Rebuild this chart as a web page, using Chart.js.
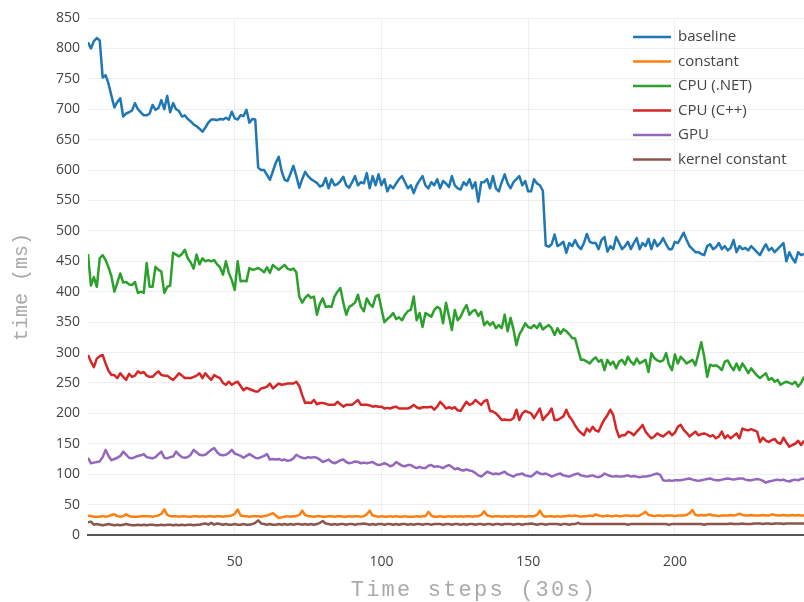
<!DOCTYPE html>
<html>
<head>
<meta charset="utf-8">
<script src="https://cdn.jsdelivr.net/npm/chart.js@4.4.1/dist/chart.umd.min.js"></script>
<style>
  html, body { margin: 0; padding: 0; background: #fff; }
  #wrap { width: 804px; height: 602px; position: relative; }
</style>
</head>
<body>
<div id="wrap"><canvas id="chart" width="804" height="602"></canvas></div>
<script>
// Series names and plot colours
const seriesNames = ['baseline', 'constant', 'CPU (.NET)', 'CPU (C++)', 'GPU', 'kernel constant'];
const seriesColors = ['#1f77b4', '#ff7f0e', '#2ca02c', '#d62728', '#9467bd', '#8c564b'];

// Axis ticks
const xTicks = [50, 100, 150, 200];
const yTicks = [0, 50, 100, 150, 200, 250, 300, 350, 400, 450, 500, 550, 600, 650, 700, 750, 800, 850];

// Measured times (ms), one value per 30 s time step, starting at step 0
const baseline = [
  810, 800, 812, 817, 813, 752, 756, 742, 722, 703,
  712, 718, 688, 693, 695, 698, 710, 700, 695, 690,
  690, 693, 707, 699, 702, 715, 700, 722, 695, 710,
  700, 697, 688, 690, 684, 680, 675, 672, 668, 663,
  670, 678, 683, 683, 682, 684, 683, 686, 683, 696,
  685, 683, 690, 689, 699, 678, 684, 683, 604, 600,
  600, 592, 584, 598, 612, 622, 598, 584, 582, 594,
  607, 590, 571, 585, 597, 590, 585, 582, 579, 573,
  575, 587, 570, 585, 575, 577, 582, 589, 575, 571,
  580, 590, 575, 580, 578, 595, 570, 590, 575, 593,
  575, 585, 565, 575, 570, 578, 585, 590, 580, 570,
  575, 562, 575, 583, 590, 575, 570, 580, 575, 585,
  570, 582, 578, 572, 590, 575, 570, 568, 580, 575,
  585, 570, 580, 548, 580, 580, 585, 570, 590, 570,
  565, 580, 593, 578, 570, 580, 585, 590, 575, 582,
  565, 565, 585, 578, 575, 566, 476, 474, 478, 494,
  475, 478, 482, 464, 480, 475, 485, 475, 470, 480,
  495, 482, 480, 480, 470, 485, 490, 466, 475, 470,
  490, 480, 470, 475, 482, 470, 480, 488, 470, 480,
  475, 487, 470, 485, 475, 480, 488, 478, 470, 470,
  482, 480, 488, 497, 485, 475, 470, 465, 465, 462,
  460, 475, 478, 470, 473, 480, 470, 475, 468, 472,
  485, 465, 475, 470, 472, 468, 475, 470, 465, 460,
  470, 478, 468, 472, 465, 470, 475, 480, 450, 465,
  455, 448, 465, 460, 462
];

const constant = [
  32, 31, 30, 30, 30, 31, 30, 31, 33, 34,
  31, 30, 31, 34, 31, 30, 30, 30, 31, 31,
  31, 31, 30, 31, 32, 35, 42, 33, 31, 31,
  31, 30, 31, 31, 30, 30, 31, 31, 30, 31,
  30, 31, 31, 30, 31, 31, 30, 31, 31, 32,
  35, 42, 32, 31, 31, 30, 31, 31, 31, 30,
  31, 32, 34, 36, 32, 28, 29, 30, 31, 30,
  31, 31, 33, 40, 33, 31, 31, 30, 31, 31,
  30, 30, 31, 31, 30, 31, 31, 30, 30, 31,
  30, 31, 31, 30, 31, 34, 40, 32, 31, 30,
  31, 30, 30, 31, 30, 31, 30, 30, 31, 30,
  30, 30, 31, 30, 31, 31, 38, 32, 30, 30,
  31, 30, 30, 31, 30, 31, 30, 31, 30, 31,
  31, 30, 31, 31, 33, 39, 32, 31, 30, 31,
  31, 30, 31, 30, 31, 31, 30, 31, 31, 30,
  31, 31, 31, 33, 40, 32, 30, 31, 31, 30,
  31, 30, 31, 31, 32, 31, 32, 31, 30, 31,
  31, 32, 31, 34, 32, 31, 31, 32, 31, 31,
  32, 31, 31, 32, 32, 31, 32, 31, 32, 35,
  38, 33, 32, 31, 32, 32, 31, 32, 32, 32,
  31, 32, 32, 32, 33, 36, 41, 33, 32, 33,
  32, 33, 34, 32, 32, 31, 32, 32, 32, 33,
  32, 33, 35, 33, 32, 32, 33, 32, 32, 32,
  33, 32, 32, 34, 33, 32, 32, 33, 32, 32,
  33, 32, 33, 32, 32
];

const cpuDotNet = [
  462, 410, 424, 408, 455, 460, 452, 440, 425, 400,
  415, 430, 415, 416, 412, 411, 416, 398, 400, 398,
  447, 408, 408, 441, 436, 433, 398, 408, 410, 464,
  461, 458, 462, 469, 455, 448, 438, 461, 445, 455,
  450, 452, 450, 452, 445, 440, 428, 450, 431, 419,
  403, 450, 417, 418, 417, 439, 436, 437, 439, 436,
  432, 440, 431, 444, 440, 436, 440, 444, 438, 436,
  438, 432, 392, 382, 390, 395, 390, 392, 362, 380,
  389, 375, 376, 375, 392, 400, 406, 382, 362, 375,
  378, 382, 395, 375, 368, 389, 380, 375, 392, 395,
  372, 350, 355, 359, 365, 355, 358, 353, 362, 368,
  370, 392, 353, 365, 342, 365, 362, 359, 370, 375,
  372, 348, 382, 360, 337, 370, 353, 359, 370, 378,
  362, 368, 370, 360, 367, 345, 351, 345, 350, 340,
  345, 340, 362, 335, 357, 338, 312, 330, 338, 348,
  342, 340, 345, 340, 348, 338, 342, 345, 340, 329,
  340, 331, 338, 335, 330, 324, 323, 305, 288, 288,
  285, 282, 288, 292, 285, 288, 271, 288, 280, 285,
  274, 285, 288, 280, 293, 285, 280, 290, 282, 285,
  288, 268, 299, 291, 287, 285, 287, 299, 280, 271,
  297, 282, 293, 288, 282, 285, 288, 279, 298, 317,
  293, 260, 280, 278, 279, 276, 271, 285, 287, 278,
  271, 282, 271, 282, 275, 266, 274, 268, 262, 258,
  262, 266, 255, 258, 252, 255, 247, 250, 252, 250,
  248, 252, 244, 250, 260
];

const cpuCpp = [
  296, 285, 276, 290, 294, 296, 282, 270, 263, 263,
  258, 266, 260, 255, 265, 260, 262, 269, 266, 268,
  262, 260, 260, 265, 269, 263, 262, 262, 258, 255,
  260, 266, 262, 258, 258, 258, 260, 262, 266, 258,
  266, 260, 255, 263, 260, 258, 250, 247, 252, 247,
  250, 252, 245, 238, 242, 240, 238, 236, 236, 241,
  242, 244, 249, 241, 245, 249, 247, 248, 249, 249,
  249, 252, 245, 230, 217, 218, 217, 222, 215, 217,
  217, 216, 214, 214, 214, 219, 215, 211, 214, 214,
  214, 218, 222, 214, 214, 214, 213, 211, 212, 211,
  211, 208, 209, 208, 210, 211, 208, 208, 208, 208,
  210, 214, 210, 208, 210, 210, 210, 211, 206, 211,
  219, 214, 208, 210, 208, 210, 205, 204, 212, 219,
  214, 216, 222, 218, 214, 220, 222, 204, 203, 200,
  195, 189, 190, 189, 189, 192, 206, 189, 200, 204,
  202, 200, 192, 200, 208, 189, 195, 200, 208, 189,
  189, 192, 195, 206, 195, 189, 180, 173, 168, 164,
  175, 170, 178, 172, 170, 181, 190, 197, 206, 197,
  175, 161, 164, 164, 170, 168, 164, 170, 175, 181,
  170, 164, 159, 162, 167, 164, 162, 166, 170, 164,
  168, 178, 181, 173, 168, 162, 166, 170, 164, 166,
  167, 165, 162, 164, 159, 162, 170, 159, 164, 159,
  163, 167, 159, 175, 173, 172, 174, 172, 170, 153,
  160, 155, 153, 156, 158, 152, 150, 160, 152, 145,
  148, 150, 155, 148, 155
];

const gpu = [
  127, 118, 119, 120, 121, 128, 140, 130, 123, 125,
  127, 130, 137, 132, 127, 126, 128, 130, 131, 133,
  128, 127, 126, 128, 133, 137, 127, 126, 128, 129,
  137, 132, 128, 127, 128, 132, 140, 136, 132, 131,
  132, 136, 140, 143, 136, 132, 131, 132, 135, 140,
  134, 132, 130, 127, 130, 133, 130, 127, 126, 128,
  130, 133, 124, 125, 124, 125, 123, 124, 122, 123,
  126, 132, 129, 127, 126, 128, 127, 128, 127, 124,
  120, 122, 124, 120, 118, 120, 123, 124, 120, 118,
  119, 121, 120, 118, 119, 118, 119, 120, 117, 115,
  116, 118, 116, 113, 115, 120, 117, 114, 113, 115,
  115, 112, 110, 112, 110, 110, 114, 115, 112, 113,
  112, 110, 113, 115, 112, 108, 110, 107, 106, 108,
  106, 105, 102, 98, 96, 100, 104, 102, 100, 101,
  100, 102, 104, 100, 98, 96, 99, 100, 101, 98,
  97, 96, 100, 104, 101, 100, 101, 99, 96, 98,
  100, 101, 98, 97, 96, 98, 100, 101, 98, 97,
  96, 97, 98, 96, 95, 97, 101, 99, 97, 96,
  97, 96, 96, 97, 98, 96, 97, 96, 95, 96,
  96, 97, 98, 100, 101, 99, 90, 89, 90, 89,
  90, 90, 90, 91, 92, 93, 91, 90, 89, 90,
  91, 92, 93, 91, 90, 90, 91, 92, 93, 92,
  91, 92, 93, 93, 91, 90, 90, 91, 92, 91,
  89, 86, 88, 89, 90, 91, 90, 91, 89, 88,
  90, 91, 90, 92, 93
];

const kernelConstant = [
  21, 22, 17, 18, 17, 16, 17, 18, 17, 16,
  17, 16, 17, 18, 17, 16, 16, 17, 16, 17,
  16, 17, 17, 16, 16, 17, 16, 17, 17, 16,
  17, 16, 17, 16, 17, 17, 16, 17, 17, 18,
  19, 17, 20, 17, 19, 18, 17, 18, 17, 17,
  18, 17, 17, 18, 17, 17, 18, 20, 24, 19,
  18, 17, 18, 17, 17, 18, 17, 18, 17, 18,
  17, 18, 18, 17, 18, 17, 18, 17, 18, 20,
  23, 19, 18, 17, 18, 17, 18, 18, 17, 18,
  18, 17, 18, 18, 19, 18, 17, 18, 17, 18,
  18, 17, 18, 18, 17, 18, 17, 18, 18, 17,
  18, 17, 18, 18, 17, 18, 18, 17, 18, 18,
  18, 17, 18, 18, 17, 18, 18, 17, 18, 17,
  18, 18, 17, 18, 18, 17, 18, 18, 17, 18,
  18, 17, 18, 18, 18, 17, 18, 18, 17, 18,
  18, 19, 18, 17, 18, 18, 17, 18, 18, 18,
  18, 17, 18, 18, 17, 18, 18, 20, 18, 18,
  18, 18, 18, 18, 18, 18, 18, 18, 18, 18,
  18, 18, 18, 18, 17, 18, 18, 18, 18, 18,
  18, 18, 18, 18, 18, 18, 18, 18, 17, 18,
  18, 18, 18, 18, 18, 18, 18, 18, 18, 18,
  17, 18, 18, 18, 18, 18, 18, 18, 18, 19,
  18, 18, 18, 19, 18, 18, 18, 19, 19, 19,
  18, 19, 19, 18, 19, 19, 19, 18, 19, 19,
  19, 19, 19, 19, 19
];

const seriesValues = [baseline, constant, cpuDotNet, cpuCpp, gpu, kernelConstant];
const lastStep = baseline.length - 1;

const datasets = seriesValues.map((values, i) => ({
  label: seriesNames[i],
  data: values.map((v, step) => ({ x: step, y: v })),
  borderColor: seriesColors[i],
  backgroundColor: seriesColors[i],
  borderWidth: 2.5,
  borderJoinStyle: 'round',
  pointRadius: 0,
  tension: 0,
  fill: false
}));

// Legend inside the plot and the two monospace axis titles
const overlayText = {
  id: 'overlayText',
  afterDraw(chart) {
    const ctx = chart.ctx;
    const area = chart.chartArea;
    ctx.save();

    // legend, top-right corner of the plot
    const lx = area.right - 171;
    ctx.font = '15px "Open Sans"';
    ctx.textBaseline = 'middle';
    ctx.textAlign = 'left';
    chart.data.datasets.forEach((ds, i) => {
      const y = area.top + 19 + i * 24.5;
      ctx.strokeStyle = ds.borderColor;
      ctx.lineWidth = 2.5;
      ctx.beginPath();
      ctx.moveTo(lx, y);
      ctx.lineTo(lx + 38, y);
      ctx.stroke();
      ctx.fillStyle = '#444';
      ctx.fillText(ds.label, lx + 45, y);
    });

    // axis titles
    ctx.fillStyle = '#aaa';
    ctx.textAlign = 'center';
    ctx.font = '22px "Liberation Mono"';
    ctx.letterSpacing = '2.2px';
    ctx.fillText('Time steps (30s)', 474, 590);
    ctx.letterSpacing = '0px';
    ctx.font = '20px "Liberation Mono"';
    ctx.translate(22, 287);
    ctx.rotate(-Math.PI / 2);
    ctx.fillText('time (ms)', 0, 0);
    ctx.restore();
  }
};

new Chart(document.getElementById('chart'), {
  type: 'line',
  data: { datasets },
  plugins: [overlayText],
  options: {
    responsive: false,
    animation: false,
    devicePixelRatio: 1,
    layout: { padding: { top: 18, left: 0, right: 0, bottom: 0 } },
    plugins: {
      legend: { display: false },
      tooltip: { enabled: false },
      title: { display: false }
    },
    scales: {
      x: {
        type: 'linear',
        min: 0,
        max: lastStep,
        afterBuildTicks: scale => { scale.ticks = xTicks.map(v => ({ value: v })); },
        afterFit: scale => { scale.height = 67; },
        grid: { color: '#eeeeee', lineWidth: 1, drawTicks: false },
        border: { display: true, color: '#555', width: 2 },
        ticks: {
          font: { family: 'Open Sans', size: 14 },
          color: '#444',
          padding: 19,
          maxRotation: 0,
          autoSkip: false
        }
      },
      y: {
        min: 0,
        max: 850,
        afterBuildTicks: scale => { scale.ticks = yTicks.map(v => ({ value: v })); },
        afterFit: scale => { scale.width = 88; },
        grid: { color: '#eeeeee', lineWidth: 1, drawTicks: false },
        border: { display: false },
        ticks: {
          font: { family: 'Open Sans', size: 14 },
          color: '#444',
          padding: 8
        }
      }
    }
  }
});
</script>
</body>
</html>
